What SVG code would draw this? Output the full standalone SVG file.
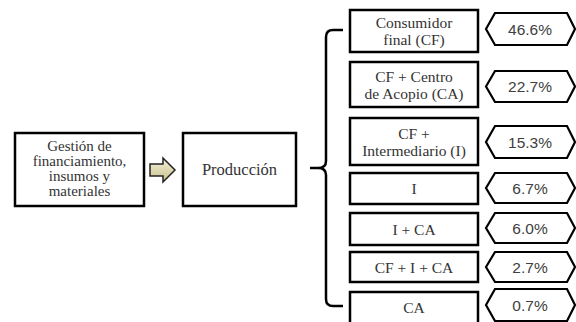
<svg xmlns="http://www.w3.org/2000/svg" width="576" height="322" viewBox="0 0 576 322">
<defs>
<style>
.box{fill:#fff;stroke:#000;stroke-width:2.5}
.hex{fill:#fff;stroke:#000;stroke-width:2.2;stroke-linejoin:miter}
.t{font-family:"Liberation Serif","Times New Roman",serif;font-size:15.5px;fill:#333;text-anchor:middle}
.p{font-family:"Liberation Sans",Arial,sans-serif;font-size:15.5px;fill:#404040;text-anchor:middle}
.br{fill:none;stroke:#000;stroke-width:2.5}
</style>
<linearGradient id="ag" x1="0" y1="0" x2="0" y2="1">
<stop offset="0" stop-color="#f4f0d8"/>
<stop offset="1" stop-color="#c8c08c"/>
</linearGradient>
</defs>
<rect width="576" height="322" fill="#fff"/>
<g id="gestion">
<rect class="box" x="15" y="133" width="129" height="73"/>
<text class="t" style="font-size:15px"><tspan x="79.5" y="151">Gestión de</tspan><tspan x="79.5" y="166">financiamiento,</tspan><tspan x="79.5" y="181">insumos y</tspan><tspan x="79.5" y="196">materiales</tspan></text>
</g>
<g id="produccion">
<rect class="box" x="183" y="133" width="113" height="73"/>
<text class="t" x="239.5" y="175" style="font-size:16.5px">Producción</text>
</g>
<g id="connectors">
<path d="M150,164 H163 V158 L175,170 L163,182 V176 H150 Z" fill="url(#ag)" stroke="#222" stroke-width="1.5" stroke-linejoin="miter"/>
<path class="br" d="M343,30 H333 Q326,30 326,37 V161 Q326,168 318,168 H310 M318,168 Q326,168 326,175 V299 Q326,306 333,306 H343"/>
</g>
<g id="n1">
<rect class="box" x="350" y="10" width="128" height="42"/>
<text class="t"><tspan x="414" y="28">Consumidor</tspan><tspan x="414" y="45">final (CF)</tspan></text>
<polygon class="hex" points="486,29 495,13 567,13 575,29 567,45 495,45"/>
<text class="p" x="530" y="34.5">46.6%</text>
</g>
<g id="n2">
<rect class="box" x="350" y="62" width="128" height="45"/>
<text class="t"><tspan x="414" y="81.5">CF + Centro</tspan><tspan x="414" y="98.5">de Acopio (CA)</tspan></text>
<polygon class="hex" points="486,86.5 495,71 567,71 575,86.5 567,102 495,102"/>
<text class="p" x="530" y="92">22.7%</text>
</g>
<g id="n3">
<rect class="box" x="350" y="118" width="128" height="47"/>
<text class="t"><tspan x="414" y="138.5">CF +</tspan><tspan x="414" y="155.5">Intermediario (I)</tspan></text>
<polygon class="hex" points="486,142 495,126 567,126 575,142 567,158 495,158"/>
<text class="p" x="530" y="147.5">15.3%</text>
</g>
<g id="n4">
<rect class="box" x="350" y="173" width="128" height="31"/>
<text class="t" x="414" y="194">I</text>
<polygon class="hex" points="486,188 495,173 567,173 575,188 567,203 495,203"/>
<text class="p" x="530" y="193.5">6.7%</text>
</g>
<g id="n5">
<rect class="box" x="350" y="213" width="128" height="32"/>
<text class="t" x="414" y="234.5">I + CA</text>
<polygon class="hex" points="486,228 495,213 567,213 575,228 567,243 495,243"/>
<text class="p" x="530" y="233.5">6.0%</text>
</g>
<g id="n6">
<rect class="box" x="350" y="252" width="128" height="30"/>
<text class="t" x="414" y="272.5">CF + I + CA</text>
<polygon class="hex" points="486,267 495,252 567,252 575,267 567,282 495,282"/>
<text class="p" x="530" y="272.5">2.7%</text>
</g>
<g id="n7">
<rect class="box" x="350" y="292" width="128" height="32"/>
<text class="t" x="414" y="312.5">CA</text>
<polygon class="hex" points="486,305 495,289 567,289 575,305 567,321 495,321"/>
<text class="p" x="530" y="311">0.7%</text>
</g>
</svg>
